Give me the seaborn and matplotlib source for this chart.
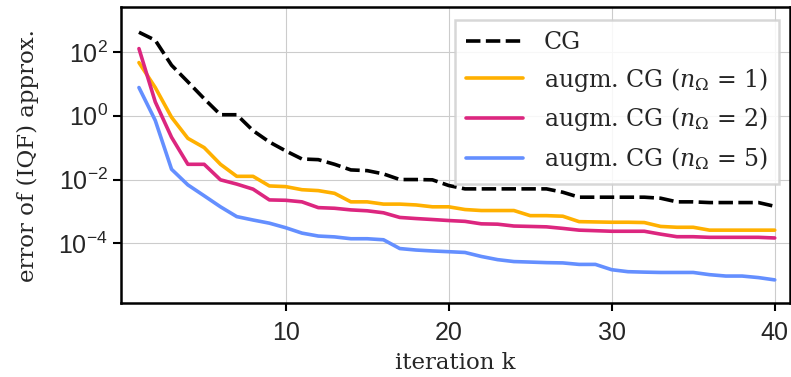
import numpy as np
import pandas as pd
import seaborn as sns
import matplotlib.pyplot as plt

# iterations
k = np.arange(1, 41)

# error values (log scale)
cg = [4.1e2, 2.3e2, 3.8e1, 1.15e1, 3.4, 1.07, 1.07, 3.4e-1, 1.5e-1, 7.9e-2,
      4.4e-2, 4.2e-2, 3.0e-2, 2.0e-2, 1.9e-2, 1.5e-2, 1.0e-2, 1.0e-2, 9.8e-3, 6.5e-3,
      5.1e-3, 5.1e-3, 5.1e-3, 5.1e-3, 5.1e-3, 5.1e-3, 4.0e-3, 2.8e-3, 2.8e-3, 2.8e-3,
      2.8e-3, 2.8e-3, 2.6e-3, 2.0e-3, 2.0e-3, 1.9e-3, 1.9e-3, 1.9e-3, 1.9e-3, 1.45e-3]
aug1 = [4.6e1, 7.6, 8.9e-1, 1.95e-1, 1.0e-1, 3.0e-2, 1.26e-2, 1.26e-2, 6.3e-3, 6.0e-3,
        4.8e-3, 4.5e-3, 3.7e-3, 2.0e-3, 2.0e-3, 1.7e-3, 1.7e-3, 1.6e-3, 1.4e-3, 1.4e-3,
        1.15e-3, 1.07e-3, 1.07e-3, 1.07e-3, 7.4e-4, 7.4e-4, 7.1e-4, 4.8e-4, 4.7e-4, 4.6e-4,
        4.6e-4, 4.5e-4, 3.4e-4, 3.2e-4, 3.2e-4, 2.6e-4, 2.6e-4, 2.6e-4, 2.6e-4, 2.6e-4]
aug2 = [1.26e2, 2.7, 2.1e-1, 3.0e-2, 3.0e-2, 9.8e-3, 7.2e-3, 5.0e-3, 2.3e-3, 2.24e-3,
        2.0e-3, 1.32e-3, 1.26e-3, 1.12e-3, 1.05e-3, 9.1e-4, 6.5e-4, 6.0e-4, 5.6e-4, 5.2e-4,
        4.9e-4, 4.1e-4, 4.0e-4, 3.5e-4, 3.4e-4, 3.3e-4, 2.95e-4, 2.6e-4, 2.5e-4, 2.4e-4,
        2.4e-4, 2.4e-4, 1.95e-4, 1.62e-4, 1.62e-4, 1.55e-4, 1.55e-4, 1.55e-4, 1.55e-4, 1.48e-4]
aug5 = [7.6, 7.1e-1, 2.1e-2, 6.8e-3, 3.1e-3, 1.4e-3, 6.9e-4, 5.4e-4, 4.3e-4, 3.1e-4,
        2.1e-4, 1.7e-4, 1.6e-4, 1.4e-4, 1.4e-4, 1.3e-4, 6.9e-5, 6.2e-5, 5.8e-5, 5.5e-5,
        5.2e-5, 3.9e-5, 3.1e-5, 2.7e-5, 2.6e-5, 2.5e-5, 2.45e-5, 2.2e-5, 2.2e-5, 1.5e-5,
        1.3e-5, 1.26e-5, 1.23e-5, 1.23e-5, 1.23e-5, 1.05e-5, 9.5e-6, 9.5e-6, 8.5e-6, 7.2e-6]

labels = ['CG', r'augm. CG ($n_\Omega$ = 1)', r'augm. CG ($n_\Omega$ = 2)', r'augm. CG ($n_\Omega$ = 5)']
colors = ['black', '#FFB000', '#DC267F', '#648FFF']

df = pd.DataFrame({
    'k': np.tile(k, 4),
    'err': cg + aug1 + aug2 + aug5,
    'method': np.repeat(labels, len(k)),
})

sns.set_style('whitegrid')
plt.rcParams['font.family'] = ['DejaVu Serif']
plt.rcParams['mathtext.fontset'] = 'dejavuserif'

fig = plt.figure(figsize=(7.91, 3.77), dpi=100)
ax = fig.add_axes([0.153, 0.196, 0.846, 0.785])

sns.lineplot(data=df, x='k', y='err', hue='method', style='method',
             palette=dict(zip(labels, colors)),
             dashes={labels[0]: (4, 1.5), labels[1]: '', labels[2]: '', labels[3]: ''},
             linewidth=2.6, ax=ax)

ax.set_yscale('log')
ax.set_xlim(-0.1, 40.95)
ax.set_ylim(1.35e-6, 2.5e3)
ax.set_yticks([1e2, 1e0, 1e-2, 1e-4])
ax.minorticks_off()
ax.set_xticks([10, 20, 30, 40])

ax.grid(True, color='#cccccc', linewidth=0.8)
for s in ax.spines.values():
    s.set_color('black')
    s.set_linewidth(1.8)
ax.tick_params(axis='both', which='major', direction='out', length=6, width=1.5,
               color='black', labelsize=18, bottom=True, left=True)
ax.tick_params(axis='x', pad=7)
for lbl in ax.get_xticklabels() + ax.get_yticklabels():
    lbl.set_fontfamily('Liberation Sans')

ax.set_xlabel('iteration k', fontsize=16.5, labelpad=5)
ax.set_ylabel('error of (IQF) approx.', fontsize=16.5, labelpad=14)

leg = ax.legend(loc='upper right', bbox_to_anchor=(0.983, 0.956), borderaxespad=0,
                fontsize=17, frameon=True, fancybox=False, handlelength=2.4,
                labelspacing=0.5, borderpad=0.45, handletextpad=0.9)
leg.get_frame().set_edgecolor('#d0d0d0')
leg.get_frame().set_linewidth(1.8)
leg.get_frame().set_alpha(0.85)

fig.savefig('out.png', dpi=100)
